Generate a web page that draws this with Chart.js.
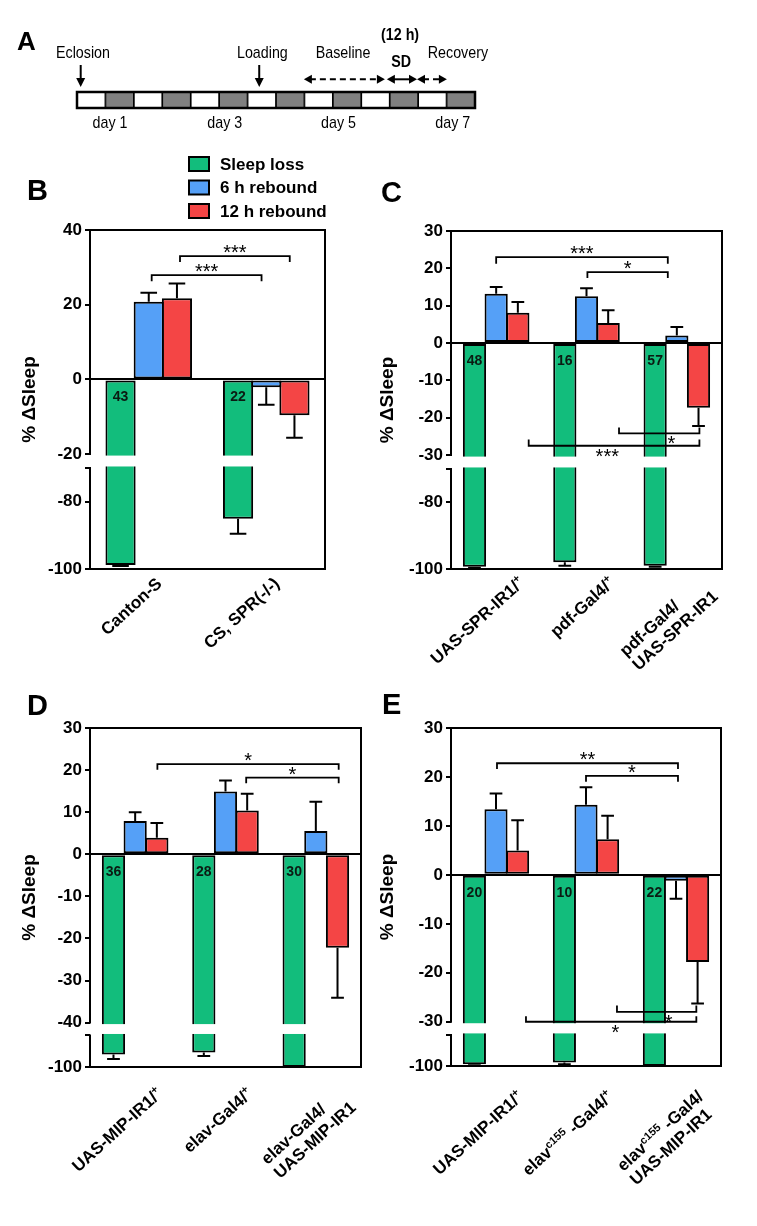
<!DOCTYPE html>
<html>
<head>
<meta charset="utf-8">
<script src="https://cdn.jsdelivr.net/npm/chart.js@4.4.1/dist/chart.umd.min.js"></script>
<style>
html,body{margin:0;padding:0;background:#fff;}
#wrap{position:relative;width:757px;height:1226px;overflow:hidden;background:#fff;}
#wrap canvas{position:absolute;left:0;top:0;}
</style>
</head>
<body>
<div id="wrap">
<canvas id="cA" width="757" height="1226"></canvas>
<canvas id="cB" width="757" height="1226"></canvas>
<canvas id="cC" width="757" height="1226"></canvas>
<canvas id="cD" width="757" height="1226"></canvas>
<canvas id="cE" width="757" height="1226"></canvas>
</div>
<script>
// ===================== DATA =====================
const seriesLabels = ['Sleep loss', '6 h rebound', '12 h rebound'];

// Panel A (timeline, positions in half-day cells from eclosion)
const timelineCells = ['L','D','L','D','L','D','L','D','L','D','L','D','L','D'];
const dayLabels = ['day 1', 'day 3', 'day 5', 'day 7'];
const dayLabelPos = [1.16, 5.2, 9.2, 13.22];
const eventLabels = ['Eclosion', 'Loading'];
const eventArrowPos = [0.13, 6.41];
const eventLabelPos = [0.21, 6.52];
const spanLabels = ['Baseline', 'SD', 'Recovery'];
const spanNotes = ['', '(12 h)', ''];
const spanFrom = [7.98, 10.9, 11.96];
const spanTo = [10.83, 11.96, 13.01];
const spanLabelPos = [9.36, 11.4, 13.4];
const spanDashed = [true, false, true];

// Panel B
const bCategories = ['Canton-S', 'CS, SPR(-/-)'];
const bSleepLoss = [-98.8, -85.1];
const bSleepLossErr = [0.3, 4.4];
const bRebound6 = [20.8, -2.1];
const bRebound6Err = [2.4, 4.7];
const bRebound12 = [21.7, -9.6];
const bRebound12Err = [4.0, 6.0];
const bN = [43, 22];
const bTicks = [40, 20, 0, -20, -70, -80, -100];
const bBrackets = [
  {x1: 0.025, x2: 0.96, y: 27.9, tip: 26.3, label: '***'},
  {x1: 0.266, x2: 1.2, y: 33.0, tip: 31.4, label: '***'}
];

// Panel C
const cCategories = ['UAS-SPR-IR1/^{+}', 'pdf-Gal4/^{+}', 'pdf-Gal4/\nUAS-SPR-IR1'];
const cSleepLoss = [-99.3, -98.0, -99.0];
const cSleepLossErr = [0.3, 1.0, 0.3];
const cRebound6 = [13.2, 12.5, 2.0];
const cRebound6Err = [1.8, 2.2, 2.3];
const cRebound12 = [8.1, 5.4, -17.3];
const cRebound12Err = [2.9, 3.4, 4.9];
const cN = [48, 16, 57];
const cTicks = [30, 20, 10, 0, -10, -20, -30, -70, -80, -100];
const cBrackets = [
  {x1: 0.0, x2: 1.9, y: 23.0, tip: 21.2, label: '***'},
  {x1: 1.01, x2: 1.9, y: 19.0, tip: 17.4, label: '*'},
  {x1: 1.36, x2: 2.25, y: -24.2, tip: -22.6, label: '*', lx: 1.94},
  {x1: 0.36, x2: 2.25, y: -27.5, tip: -25.8, label: '***', lx: 1.23}
];

// Panel D
const dCategories = ['UAS-MIP-IR1/^{+}', 'elav-Gal4/^{+}', 'elav-Gal4/\nUAS-MIP-IR1'];
const dSleepLoss = [-96.0, -95.4, -100];
const dSleepLossErr = [1.5, 1.1, 0];
const dRebound6 = [7.9, 14.9, 5.5];
const dRebound6Err = [2.1, 2.6, 7.0];
const dRebound12 = [3.9, 10.4, -22.2];
const dRebound12Err = [3.5, 4.0, 11.9];
const dN = [36, 28, 30];
const dTicks = [30, 20, 10, 0, -10, -20, -30, -40, -90, -100];
const dBrackets = [
  {x1: 0.246, x2: 2.253, y: 21.4, tip: 20.1, label: '*'},
  {x1: 1.229, x2: 2.253, y: 18.2, tip: 16.9, label: '*'}
];

// Panel E
const eCategories = ['UAS-MIP-IR1/^{+}', 'elav^{c155} -Gal4/^{+}', 'elav^{c155} -Gal4/\nUAS-MIP-IR1'];
const eSleepLoss = [-99.45, -98.9, -100];
const eSleepLossErr = [0.3, 0.5, 0];
const eRebound6 = [13.4, 14.3, -1.2];
const eRebound6Err = [3.2, 3.6, 3.7];
const eRebound12 = [5.0, 7.25, -17.8];
const eRebound12Err = [6.15, 4.8, 8.5];
const eN = [20, 10, 22];
const eTicks = [30, 20, 10, 0, -10, -20, -30, -90, -100];
const eBrackets = [
  {x1: 0.011, x2: 2.022, y: 22.8, tip: 21.6, label: '**'},
  {x1: 1.0, x2: 2.022, y: 20.2, tip: 19.0, label: '*'},
  {x1: 1.344, x2: 2.226, y: -28.0, tip: -26.7, label: '*', lx: 1.918},
  {x1: 0.333, x2: 2.226, y: -30.1, tip: -28.9, label: '*', lx: 1.326}
];

// ===================== STYLE =====================
const FONT = '"Liberation Sans", Arial, Helvetica, sans-serif';
const COLORS = ['#12BD7C', '#55A0F7', '#F44545'];
const GRAY = '#808080';
const PAGE_W = 757, PAGE_H = 1226;
const LABEL_ANGLE = 42.5 * Math.PI / 180;
const LABEL_SIZE = 17;
const LABEL_LINE = 19;

// ===================== BROKEN AXIS SCALE =====================
const LinearScale = Chart.LinearScale || Chart.registry.getScale('linear');
const BREAKS = {};
class BrokenScale extends LinearScale {
  buildTicks() {
    const b = BREAKS[this.chart.canvas.id];
    return b.ticks.map(v => ({value: v}));
  }
  _geom() {
    const b = BREAKS[this.chart.canvas.id];
    const h = this.bottom - this.top;
    return {b, pHi: this.top + h * b.upperFrac, pLo: this.top + h * b.lowerFrac};
  }
  getPixelForValue(v) {
    if (v === null || v === undefined || !isFinite(v)) return NaN;
    const {b, pHi, pLo} = this._geom();
    if (v >= b.hi) return this.top + (b.max - v) / (b.max - b.hi) * (pHi - this.top);
    if (v <= b.lo) return pLo + (b.lo - v) / (b.lo - b.min) * (this.bottom - pLo);
    return pHi + (b.hi - v) / (b.hi - b.lo) * (pLo - pHi);
  }
  getValueForPixel(p) {
    const {b, pHi, pLo} = this._geom();
    if (p <= pHi) return b.max - (p - this.top) / (pHi - this.top) * (b.max - b.hi);
    if (p >= pLo) return b.lo - (p - pLo) / (this.bottom - pLo) * (b.lo - b.min);
    return b.hi - (p - pHi) / (pLo - pHi) * (b.hi - b.lo);
  }
}
BrokenScale.id = 'broken';
BrokenScale.defaults = {};
Chart.register(BrokenScale);

// ===================== TEXT HELPERS =====================
function parseRich(s) {
  const out = []; const re = /\^\{([^}]*)\}/g; let last = 0, m;
  while ((m = re.exec(s))) {
    if (m.index > last) out.push({t: s.slice(last, m.index), sup: false});
    out.push({t: m[1], sup: true});
    last = re.lastIndex;
  }
  if (last < s.length) out.push({t: s.slice(last), sup: false});
  return out;
}
function richWidth(ctx, segs, size, weight) {
  let w = 0;
  segs.forEach(sg => { ctx.font = `${weight} ${sg.sup ? size * 0.65 : size}px ${FONT}`; w += ctx.measureText(sg.t).width; });
  return w;
}
function drawRich(ctx, segs, x, y, size, weight) {
  segs.forEach(sg => {
    const fs = sg.sup ? size * 0.65 : size;
    ctx.font = `${weight} ${fs}px ${FONT}`;
    ctx.fillText(sg.t, x, sg.sup ? y - size * 0.38 : y);
    x += ctx.measureText(sg.t).width;
  });
}
function drawRotatedLabel(ctx, label, ax, ay, size, lineH) {
  const lines = label.split('\n').map(parseRich);
  const widths = lines.map(l => richWidth(ctx, l, size, 'bold'));
  const W = Math.max(...widths);
  ctx.save();
  ctx.translate(ax, ay);
  ctx.rotate(-LABEL_ANGLE);
  ctx.fillStyle = '#000';
  ctx.textAlign = 'left';
  ctx.textBaseline = 'alphabetic';
  const cap = size * 0.716;
  lines.forEach((l, i) => drawRich(ctx, l, -W, cap + i * lineH, size, 'bold'));
  ctx.restore();
}
function starText(ctx, text, cx, cy) {
  ctx.font = `20px ${FONT}`;
  ctx.textAlign = 'center';
  ctx.textBaseline = 'alphabetic';
  const m = ctx.measureText(text);
  const asc = m.actualBoundingBoxAscent, desc = m.actualBoundingBoxDescent;
  ctx.fillText(text, cx, cy + (asc - desc) / 2);
}

// ===================== PANEL A (timeline) =====================
function arrowHead(ctx, x, y, dx, dy, len, half) {
  ctx.beginPath();
  ctx.moveTo(x, y);
  ctx.lineTo(x - dx * len - dy * half, y - dy * len + dx * half);
  ctx.lineTo(x - dx * len + dy * half, y - dy * len - dx * half);
  ctx.closePath();
  ctx.fill();
}
function condensedText(ctx, text, cx, baseline, size, weight) {
  ctx.save();
  ctx.translate(cx, baseline);
  ctx.scale(0.84, 1);
  ctx.font = `${weight} ${size}px ${FONT}`;
  ctx.textAlign = 'center';
  ctx.textBaseline = 'alphabetic';
  ctx.fillStyle = '#000';
  ctx.fillText(text, 0, 0);
  ctx.restore();
}
const timelinePlugin = {
  id: 'timelineDeco',
  afterDatasetsDraw(chart) {
    const ctx = chart.ctx, xs = chart.scales.x, a = chart.chartArea;
    const px = t => xs.getPixelForValue(t - 0.5);
    ctx.save();
    ctx.strokeStyle = '#000'; ctx.fillStyle = '#000';
    ctx.lineWidth = 2.5;
    ctx.strokeRect(a.left, a.top, a.right - a.left, a.bottom - a.top);
    ctx.font = `bold 26px ${FONT}`; ctx.textAlign = 'left'; ctx.textBaseline = 'alphabetic';
    ctx.fillText('A', 17, a.top - 42);
    eventLabels.forEach((lab, i) => {
      const x = px(eventArrowPos[i]);
      ctx.lineWidth = 2;
      ctx.beginPath(); ctx.moveTo(x, a.top - 27); ctx.lineTo(x, a.top - 12); ctx.stroke();
      arrowHead(ctx, x, a.top - 5, 0, 1, 9, 4.5);
      condensedText(ctx, lab, px(eventLabelPos[i]), a.top - 34, 17, 'normal');
    });
    spanLabels.forEach((lab, i) => {
      const x1 = px(spanFrom[i]), x2 = px(spanTo[i]), y = a.top - 12.7;
      ctx.lineWidth = 2;
      ctx.setLineDash(spanDashed[i] ? [6, 4] : []);
      ctx.beginPath(); ctx.moveTo(x1 + 6, y); ctx.lineTo(x2 - 6, y); ctx.stroke();
      ctx.setLineDash([]);
      arrowHead(ctx, x1, y, -1, 0, 8, 4.5);
      arrowHead(ctx, x2, y, 1, 0, 8, 4.5);
      if (spanNotes[i]) {
        condensedText(ctx, spanNotes[i], px(spanLabelPos[i]) - 1, a.top - 52, 17, 'bold');
        condensedText(ctx, lab, px(spanLabelPos[i]), a.top - 25, 17, 'bold');
      } else {
        condensedText(ctx, lab, px(spanLabelPos[i]), a.top - 34, 17, 'normal');
      }
    });
    dayLabels.forEach((lab, i) => condensedText(ctx, lab, px(dayLabelPos[i]), a.bottom + 20, 17, 'normal'));
    ctx.restore();
  }
};
new Chart(document.getElementById('cA'), {
  type: 'bar',
  data: {
    labels: timelineCells.map((c, i) => String(i + 1)),
    datasets: [{
      data: timelineCells.map(() => 1),
      backgroundColor: timelineCells.map(c => c === 'D' ? GRAY : '#ffffff'),
      borderColor: '#000', borderWidth: 1.2, borderSkipped: false,
      barPercentage: 1, categoryPercentage: 1
    }]
  },
  options: {
    responsive: false, animation: false, events: [], devicePixelRatio: 1,
    layout: {padding: {left: 77, right: PAGE_W - 475, top: 92, bottom: PAGE_H - 108}},
    plugins: {legend: {display: false}, tooltip: {enabled: false}},
    scales: {x: {display: false}, y: {display: false, min: 0, max: 1}}
  },
  plugins: [timelinePlugin]
});

// ===================== BAR PANELS =====================
function makePanelPlugin(p) {
  return {
    id: 'deco' + p.letter,
    afterDatasetsDraw(chart) {
      const ctx = chart.ctx, xs = chart.scales.x, ys = chart.scales.y, a = chart.chartArea;
      ctx.save();
      ctx.strokeStyle = '#000'; ctx.fillStyle = '#000';
      chart.data.datasets.forEach((ds, di) => {
        const meta = chart.getDatasetMeta(di);
        meta.data.forEach((el, i) => {
          const v = ds.data[i], e = p.errors[di][i];
          if (!e) return;
          const end = v >= 0 ? v + e : v - e;
          const y0 = ys.getPixelForValue(v), y1 = ys.getPixelForValue(end);
          const cw = el.width * 0.55;
          ctx.lineWidth = 2;
          ctx.beginPath();
          ctx.moveTo(el.x, y0); ctx.lineTo(el.x, y1);
          ctx.moveTo(el.x - cw / 2, y1); ctx.lineTo(el.x + cw / 2, y1);
          ctx.stroke();
        });
      });
      const pHi = ys.getPixelForValue(p.hi), pLo = ys.getPixelForValue(p.lo);
      ctx.fillStyle = '#fff';
      ctx.fillRect(a.left - 1, pHi + 1.5, a.right - a.left, pLo - pHi - 3);
      ctx.strokeStyle = '#000'; ctx.lineWidth = 2;
      ctx.beginPath();
      ctx.moveTo(a.left, a.top); ctx.lineTo(a.left, pHi + 1);
      ctx.moveTo(a.left, pLo - 1); ctx.lineTo(a.left, a.bottom);
      ctx.moveTo(a.left - 1, a.top); ctx.lineTo(a.right, a.top); ctx.lineTo(a.right, a.bottom); ctx.lineTo(a.left - 1, a.bottom);
      ctx.stroke();
      const y0 = ys.getPixelForValue(0);
      const gm = chart.getDatasetMeta(0);
      ctx.fillStyle = '#0b1a12';
      ctx.font = `bold 14px ${FONT}`; ctx.textAlign = 'center'; ctx.textBaseline = 'middle';
      gm.data.forEach((el, i) => ctx.fillText(String(p.n[i]), el.x, y0 + 18));
      ctx.fillStyle = '#000'; ctx.strokeStyle = '#000'; ctx.lineWidth = 1.8;
      p.brackets.forEach(b => {
        const x1 = xs.getPixelForValue(b.x1), x2 = xs.getPixelForValue(b.x2);
        const y = ys.getPixelForValue(b.y), yt = ys.getPixelForValue(b.tip);
        ctx.beginPath();
        ctx.moveTo(x1, yt); ctx.lineTo(x1, y); ctx.lineTo(x2, y); ctx.lineTo(x2, yt);
        ctx.stroke();
        const lx = b.lx !== undefined ? xs.getPixelForValue(b.lx) : (x1 + x2) / 2;
        const below = b.tip > b.y;
        starText(ctx, b.label, lx, below ? y + 7 : y - 7);
      });
      ctx.restore();
    },
    afterDraw(chart) {
      const ctx = chart.ctx, xs = chart.scales.x, a = chart.chartArea;
      ctx.save();
      ctx.fillStyle = '#000';
      ctx.font = `bold 29px ${FONT}`; ctx.textAlign = 'left'; ctx.textBaseline = 'alphabetic';
      ctx.fillText(p.letter, p.letterPos[0], p.letterPos[1]);
      chart.data.labels.forEach((lab, i) => {
        const cx = xs.getPixelForValue(i);
        drawRotatedLabel(ctx, lab, cx + p.labelDx, a.bottom + p.labelDy, LABEL_SIZE, LABEL_LINE);
      });
      if (p.legend) {
        chart.data.datasets.forEach((ds, i) => {
          const cy = p.legend.y + i * 23.5;
          ctx.fillStyle = ds.backgroundColor;
          ctx.fillRect(p.legend.x, cy - 7, 20, 14);
          ctx.strokeStyle = '#000'; ctx.lineWidth = 2;
          ctx.strokeRect(p.legend.x, cy - 7, 20, 14);
          ctx.fillStyle = '#000';
          ctx.font = `bold 17px ${FONT}`; ctx.textAlign = 'left'; ctx.textBaseline = 'middle';
          ctx.fillText(ds.label, p.legend.x + 31, cy + 1);
        });
      }
      ctx.restore();
    }
  };
}

function panelChart(p) {
  BREAKS[p.canvas] = {ticks: p.ticks, max: p.max, min: p.min, hi: p.hi, lo: p.lo, upperFrac: p.upperFrac, lowerFrac: p.lowerFrac};
  const titleSize = 19;
  const titleOffset = titleSize * 1.2 / 2 + 4;
  const scaleLeft = p.titleX - titleOffset;
  const axisW = p.area.left - scaleLeft;
  return new Chart(document.getElementById(p.canvas), {
    type: 'bar',
    data: {
      labels: p.categories,
      datasets: p.series.map((s, i) => ({
        label: seriesLabels[i], data: s, backgroundColor: COLORS[i],
        borderColor: '#000', borderWidth: 2, borderSkipped: false,
        categoryPercentage: 0.72, barPercentage: 1.07
      }))
    },
    options: {
      responsive: false, animation: false, events: [], devicePixelRatio: 1,
      layout: {padding: {left: scaleLeft, top: p.area.top, right: PAGE_W - p.area.right, bottom: PAGE_H - p.area.bottom}},
      plugins: {legend: {display: false}, tooltip: {enabled: false}},
      scales: {
        x: {type: 'category', display: false, offset: true},
        y: {
          type: 'broken', min: p.min, max: p.max,
          afterFit(s) { s.width = axisW; },
          border: {display: false},
          grid: {
            color: c => (c.tick && c.tick.value === 0) ? '#000' : 'rgba(0,0,0,0)',
            lineWidth: 2, tickColor: '#000', tickLength: 5, tickWidth: 2, drawOnChartArea: true
          },
          ticks: {
            autoSkip: false, padding: 3, color: '#000',
            font: {family: FONT, size: 17, weight: 'bold'},
            callback: v => (v === p.lo ? '' : String(v))
          },
          title: {display: true, text: '% ΔSleep', color: '#000', font: {family: FONT, size: titleSize, weight: 'bold'}, padding: {top: 4, bottom: 4}}
        }
      }
    },
    plugins: [makePanelPlugin(p)]
  });
}

panelChart({
  canvas: 'cB', letter: 'B', letterPos: [27, 200],
  categories: bCategories, series: [bSleepLoss, bRebound6, bRebound12],
  errors: [bSleepLossErr, bRebound6Err, bRebound12Err], n: bN,
  ticks: bTicks, max: 40, min: -100, hi: -20, lo: -70, upperFrac: 0.661, lowerFrac: 0.702,
  area: {left: 90, top: 230, right: 325, bottom: 569}, titleX: 30,
  brackets: bBrackets, labelDx: 6, labelDy: 7,
  legend: {x: 189, y: 164}
});
panelChart({
  canvas: 'cC', letter: 'C', letterPos: [381, 202],
  categories: cCategories, series: [cSleepLoss, cRebound6, cRebound12],
  errors: [cSleepLossErr, cRebound6Err, cRebound12Err], n: cN,
  ticks: cTicks, max: 30, min: -100, hi: -30, lo: -70, upperFrac: 0.663, lowerFrac: 0.704,
  area: {left: 451, top: 231, right: 722, bottom: 569}, titleX: 388,
  brackets: cBrackets, labelDx: 21, labelDy: 6
});
panelChart({
  canvas: 'cD', letter: 'D', letterPos: [27, 715],
  categories: dCategories, series: [dSleepLoss, dRebound6, dRebound12],
  errors: [dSleepLossErr, dRebound6Err, dRebound12Err], n: dN,
  ticks: dTicks, max: 30, min: -100, hi: -40, lo: -90, upperFrac: 0.869, lowerFrac: 0.907,
  area: {left: 90, top: 728, right: 361, bottom: 1067}, titleX: 30,
  brackets: dBrackets, labelDx: 20, labelDy: 19
});
panelChart({
  canvas: 'cE', letter: 'E', letterPos: [382, 714],
  categories: eCategories, series: [eSleepLoss, eRebound6, eRebound12],
  errors: [eSleepLossErr, eRebound6Err, eRebound12Err], n: eN,
  ticks: eTicks, max: 30, min: -100, hi: -30, lo: -90, upperFrac: 0.869, lowerFrac: 0.908,
  area: {left: 451, top: 728, right: 721, bottom: 1066}, titleX: 388,
  brackets: eBrackets, labelDx: 20, labelDy: 23
});
</script>
</body>
</html>
